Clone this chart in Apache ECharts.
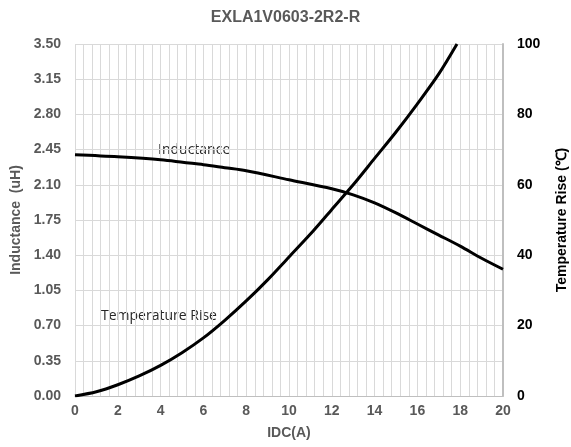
<!DOCTYPE html>
<html>
<head>
<meta charset="utf-8">
<script src="https://cdn.jsdelivr.net/npm/echarts@6/dist/echarts.min.js"></script>
<style>
  html, body { margin: 0; padding: 0; background: #fff; }
  #chart { width: 571px; height: 447px; }
</style>
</head>
<body>
<div id="chart"></div>
<script>
// IDC (A) vs inductance (uH)
let indCurrent = [0, 2, 4, 6, 7, 8, 10, 12, 13, 14, 15, 16, 17, 18, 19, 20];
let indValues  = [2.40, 2.38, 2.35, 2.30, 2.27, 2.24, 2.15, 2.06, 2.00, 1.92, 1.82, 1.71, 1.60, 1.49, 1.37, 1.26];

// IDC (A) vs temperature rise (°C)
let tempCurrent = [0, 1, 2, 3, 4, 5, 6, 7, 8, 9, 10, 11, 12, 13, 14, 15, 16, 17, 17.85];
let tempValues  = [0, 1.2, 3.2, 5.7, 8.7, 12.3, 16.5, 21.5, 27, 33, 39.5, 46, 53, 60, 67.5, 75, 83, 91.5, 100];

let xTicks = [0, 2, 4, 6, 8, 10, 12, 14, 16, 18, 20];
let leftTicks = [0.00, 0.35, 0.70, 1.05, 1.40, 1.75, 2.10, 2.45, 2.80, 3.15, 3.50];
let rightTicks = [0, 20, 40, 60, 80, 100];

let chart = echarts.init(document.getElementById('chart'));

let gray = '#595959';
let gridColor = '#d9d9d9';
let font = 'Liberation Sans, Arial, sans-serif';
let noteFont = 'Open Sans, Noto Sans, sans-serif';

let option = {
    animation: false,
    title: {
        text: 'EXLA1V0603-2R2-R',
        left: 'center',
        top: 5,
        textStyle: { fontFamily: font, fontSize: 16, fontWeight: 'bold', color: gray }
    },
    grid: { left: 75, right: 68, top: 44, bottom: 51, outerBoundsMode: 'none', containLabel: false },
    xAxis: {
        type: 'value',
        min: xTicks[0],
        max: xTicks[xTicks.length - 1],
        interval: xTicks[1] - xTicks[0],
        name: 'IDC(A)',
        nameLocation: 'middle',
        nameGap: 30,
        nameTextStyle: { fontFamily: font, fontSize: 14, fontWeight: 'bold', color: gray },
        axisLine: { lineStyle: { color: '#bfbfbf', width: 1 } },
        axisTick: { show: false },
        axisLabel: { fontFamily: font, fontSize: 14, fontWeight: 'bold', color: gray, margin: 8 },
        splitLine: { show: true, lineStyle: { color: gridColor } },
        minorTick: { show: false, splitNumber: 5 },
        minorSplitLine: { show: true, lineStyle: { color: gridColor } }
    },
    yAxis: [{
        type: 'value',
        min: leftTicks[0],
        max: leftTicks[leftTicks.length - 1],
        interval: 0.35,
        name: 'Inductance  (uH)',
        nameLocation: 'middle',
        nameGap: 51,
        nameTextStyle: { fontFamily: font, fontSize: 14, fontWeight: 'bold', color: gray },
        axisLine: { show: false },
        axisTick: { show: false },
        axisLabel: {
            fontFamily: font, fontSize: 14, fontWeight: 'bold', color: gray, margin: 14,
            formatter: (v) => v.toFixed(2)
        },
        splitLine: { show: true, lineStyle: { color: gridColor } }
    }, {
        type: 'value',
        min: rightTicks[0],
        max: rightTicks[rightTicks.length - 1],
        interval: 20,
        position: 'right',
        name: 'Temperature Rise (℃)',
        nameLocation: 'middle',
        nameGap: 52,
        nameRotate: 90,
        nameTextStyle: { fontFamily: font, fontSize: 14, fontWeight: 'bold', color: '#000' },
        axisLine: { show: true, lineStyle: { color: '#bfbfbf', width: 2 } },
        axisTick: { show: false },
        axisLabel: { fontFamily: font, fontSize: 14, fontWeight: 'bold', color: '#000', margin: 14 },
        splitLine: { show: false }
    }],
    series: [{
        name: 'Inductance',
        type: 'line',
        yAxisIndex: 0,
        smooth: 0.3,
        symbol: 'none',
        lineStyle: { color: '#000', width: 3 },
        data: indCurrent.map((x, i) => [x, indValues[i]])
    }, {
        name: 'Temperature Rise',
        type: 'line',
        yAxisIndex: 1,
        smooth: 0.3,
        symbol: 'none',
        clip: true,
        lineStyle: { color: '#000', width: 3 },
        data: tempCurrent.map((x, i) => [x, tempValues[i]])
    }],
    graphic: [{
        type: 'text',
        left: 158,
        top: 143,
        style: { text: 'Inductance', fontFamily: noteFont, fontSize: 14, fill: '#262626' }
    }, {
        type: 'text',
        left: 101,
        top: 309,
        style: { text: 'Temperature Rise', fontFamily: noteFont, fontSize: 14, fill: '#262626' }
    }]
};

chart.setOption(option);
</script>
</body>
</html>
